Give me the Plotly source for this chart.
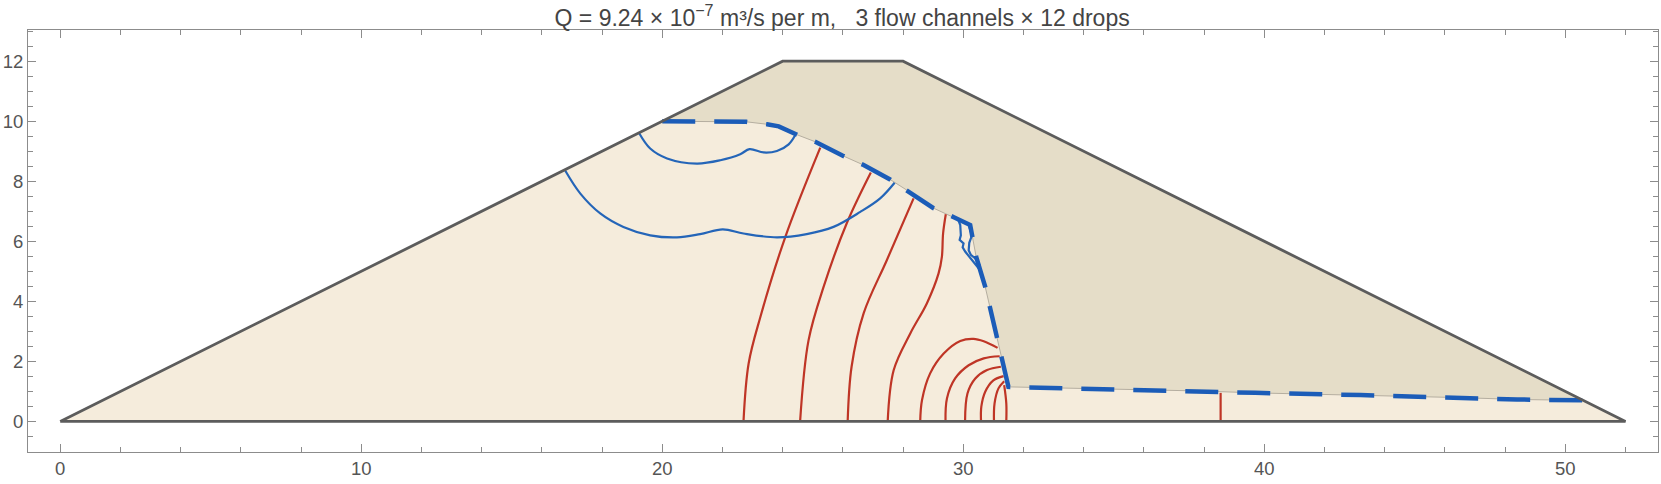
import plotly.graph_objects as go

dam_x = [0, 24, 28, 52, 0]
dam_y = [0, 12, 12, 0, 0]

phreatic_x = [20, 21.7, 22.8, 23.48, 23.87, 24.48, 25.1, 26.0, 26.69, 27.57, 28.18, 29.0, 29.67, 30.23,
              30.43, 30.73, 31.5, 33, 36, 37.97, 39.7, 43.2, 44.9, 46.6, 48.4, 50.6]
phreatic_y = [10, 10, 9.98, 9.9, 9.83, 9.55, 9.31, 8.85, 8.54, 8.06, 7.67, 7.11, 6.81, 6.54,
              5.48, 4.48, 1.15, 1.12, 1.06, 1.01, 0.95, 0.876, 0.82, 0.79, 0.73, 0.7]

# equipotentials, left to right
red_lines = [
    ([22.7, 22.87, 23.26, 24.09, 25.25],
     [0, 1.93, 3.48, 6.15, 9.12]),
    ([24.58, 24.86, 25.36, 26.13, 26.93],
     [0, 2.7, 4.48, 6.6, 8.29]),
    ([26.16, 26.29, 26.69, 27.46, 28.35],
     [0, 1.82, 3.6, 5.37, 7.43]),
    ([27.49, 27.69, 28.24, 28.79, 29.18, 29.29, 29.33, 29.42],
     [0, 1.71, 2.93, 3.93, 4.93, 5.48, 6.26, 6.9]),
    ([28.57, 28.63, 28.9, 29.35, 29.9, 30.34, 30.68, 31.14],
     [0, 0.71, 1.6, 2.26, 2.68, 2.75, 2.67, 2.45]),
    ([29.41, 29.46, 29.73, 30.18, 30.68, 31.21],
     [0, 0.77, 1.43, 1.87, 2.1, 2.17]),
    ([30.06, 30.14, 30.4, 30.79, 31.25],
     [0, 0.93, 1.43, 1.71, 1.82]),
    ([30.59, 30.6, 30.73, 31.0, 31.34],
     [0, 0.49, 0.99, 1.37, 1.51]),
    ([31.02, 31.04, 31.17, 31.36],
     [0, 0.6, 1.1, 1.34]),
    ([31.43, 31.43, 31.36],
     [0, 0.6, 1.21]),
    ([38.55, 38.55],
     [0, 0.95]),
]

blue_big_x = [16.78, 17.28, 17.94, 18.71, 19.6, 20.49, 21.26, 22.01, 22.7, 23.81, 24.8, 25.69, 26.58, 27.24, 27.72]
blue_big_y = [8.35, 7.59, 6.93, 6.48, 6.2, 6.13, 6.24, 6.4, 6.26, 6.13, 6.24, 6.48, 6.98, 7.43, 7.95]
blue_small_x = [19.24, 19.6, 20.16, 21.15, 21.93, 22.59, 22.9, 23.37, 23.81, 24.2, 24.42]
blue_small_y = [9.59, 9.09, 8.76, 8.59, 8.7, 8.9, 9.07, 8.96, 9.01, 9.23, 9.54]
blue_core1_x = [29.84, 29.9, 29.92, 29.88, 30.01, 29.98, 30.07, 30.29, 30.51]
blue_core1_y = [6.7, 6.54, 6.2, 6.05, 5.93, 5.8, 5.65, 5.37, 5.1]
blue_core2_x = [30.18, 30.29, 30.2, 30.18, 30.25, 30.4, 30.55]
blue_core2_y = [6.54, 6.2, 5.95, 5.7, 5.55, 5.43, 5.2]

title = 'Q = 9.24 × 10<sup>−7</sup> m³/s per m,   3 flow channels × 12 drops'

shell_color = '#e5ddc8'
wet_color = '#f5ecdc'
outline = '#5c5c5c'
red = '#bf3526'
blue = '#2465b8'
dash_blue = '#1b5cb8'
frame = '#8c8c8c'
text = '#555555'


def thin(x, y, color, width=2.2, shape='linear'):
    return go.Scatter(x=x, y=y, mode='lines', line=dict(color=color, width=width, shape=shape),
                      hoverinfo='skip', showlegend=False)


fig = go.Figure()
fig.add_trace(go.Scatter(x=dam_x, y=dam_y, mode='lines', fill='toself', fillcolor=shell_color,
                         line=dict(width=0), hoverinfo='skip', showlegend=False))
fig.add_trace(go.Scatter(x=[0] + phreatic_x + [52, 0], y=[0] + phreatic_y + [0, 0], mode='lines',
                         fill='toself', fillcolor=wet_color,
                         line=dict(width=0), hoverinfo='skip', showlegend=False))
fig.add_trace(thin(phreatic_x, phreatic_y, '#b5aea0', 1))
for lx, ly in red_lines:
    fig.add_trace(thin(lx, ly, red, 2.2, 'spline'))
fig.add_trace(thin(blue_big_x, blue_big_y, blue, 2.2, 'spline'))
fig.add_trace(thin(blue_small_x, blue_small_y, blue, 2.2, 'spline'))
fig.add_trace(thin(blue_core1_x, blue_core1_y, blue))
fig.add_trace(thin(blue_core2_x, blue_core2_y, blue))
fig.add_trace(go.Scatter(x=phreatic_x, y=phreatic_y, mode='lines',
                         line=dict(color=dash_blue, width=4.5, dash='33px,19px'),
                         hoverinfo='skip', showlegend=False))
fig.add_trace(thin(dam_x, dam_y, outline, 2.8))

axis_common = dict(showgrid=False, zeroline=False, showline=True, linecolor=frame, linewidth=1,
                   mirror='allticks', ticks='inside', ticklen=8, tickcolor=frame, tickwidth=1,
                   tickfont=dict(family='Liberation Sans', size=18.5, color=text))
fig.update_layout(
    width=1661,
    height=484,
    margin=dict(l=28, r=3, t=30, b=32),
    paper_bgcolor='white',
    plot_bgcolor='white',
    title=dict(text=title, x=0.507, xanchor='center', y=0.963, yanchor='middle',
               font=dict(family='Liberation Sans', size=23, color='#444444')),
    xaxis=dict(range=[-1.07, 53.08], tick0=0, dtick=10,
               minor=dict(dtick=2, tick0=0, ticks='inside', ticklen=5, tickcolor=frame, tickwidth=1),
               **axis_common),
    yaxis=dict(range=[-1.02, 13.04], tick0=0, dtick=2,
               minor=dict(dtick=0.5, tick0=0, ticks='inside', ticklen=5, tickcolor=frame, tickwidth=1),
               **axis_common),
)

fig.write_html("out.html", config=dict(displayModeBar=False),
               post_script="document.body.style.margin='0';")
